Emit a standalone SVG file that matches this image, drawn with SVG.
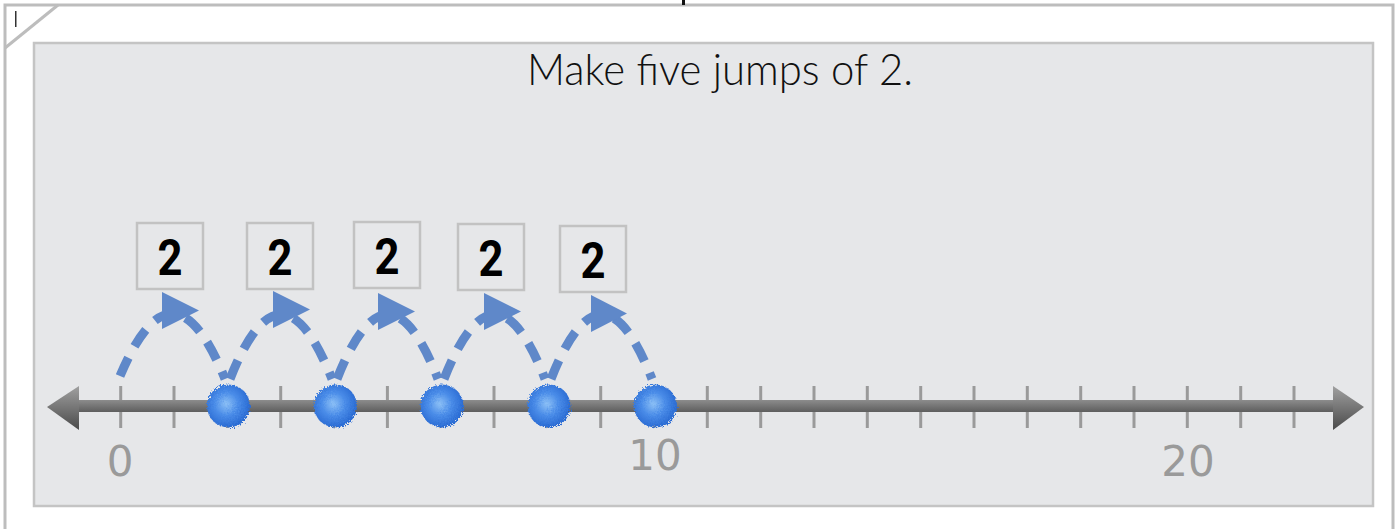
<svg xmlns="http://www.w3.org/2000/svg" width="1395" height="529" viewBox="0 0 1395 529">
<defs>
<style>
.frame{fill:#ffffff;stroke:#bdbdbd;stroke-width:3}
.panel{fill:#e6e7e9;stroke:#c4c4c4;stroke-width:2.5}
.tick{stroke:#9a9a9a;stroke-width:3}
.lbl{fill:#9a9a9a;font-family:"Century Gothic","DejaVu Sans","Noto Sans",sans-serif;font-size:42px;text-anchor:middle}
.box{fill:#e6e7e9;stroke:#c2c2c2;stroke-width:2.5}
.two{fill:#000;font-family:"Roboto","Liberation Sans",sans-serif;font-weight:bold;font-size:50px;text-anchor:middle}
.arc{fill:none;stroke:#5f88c9;stroke-width:9;stroke-dasharray:20 13}
.tri{fill:#5f88c9}
.dot{fill:url(#dotg);filter:url(#fuzz)}
</style>
<linearGradient id="lineg" x1="0" y1="0" x2="0" y2="1">
<stop offset="0" stop-color="#8c8c8c"/>
<stop offset="1" stop-color="#5e5e5e"/>
</linearGradient>
<linearGradient id="headg" x1="0" y1="0" x2="0" y2="1">
<stop offset="0" stop-color="#a0a0a0"/>
<stop offset="1" stop-color="#4a4a4a"/>
</linearGradient>
<radialGradient id="dotg" cx="0.45" cy="0.45" r="0.55">
<stop offset="0" stop-color="#8cc0f6"/>
<stop offset="0.5" stop-color="#4a8ce8"/>
<stop offset="1" stop-color="#2a6bd3"/>
</radialGradient>
<filter id="fuzz" x="-25%" y="-25%" width="150%" height="150%">
<feTurbulence type="fractalNoise" baseFrequency="0.7" numOctaves="2" result="n"/>
<feDisplacementMap in="SourceGraphic" in2="n" scale="6"/>
</filter>
</defs>

<g id="frame">
<rect class="frame" x="5" y="5" width="1388" height="540"/>
<line x1="5" y1="48" x2="58" y2="5" stroke="#bdbdbd" stroke-width="3"/>
<rect x="15" y="11" width="1.5" height="16" fill="#333"/>
<rect x="682" y="0" width="3" height="5" fill="#111"/>
</g>

<g id="panel">
<rect class="panel" x="34" y="43" width="1339" height="463"/>
<text x="720" y="85" font-family="Lato,'DejaVu Sans',sans-serif" font-weight="300" font-size="44" fill="#111" text-anchor="middle" textLength="386" lengthAdjust="spacingAndGlyphs">Make five jumps of 2.</text>
</g>

<g id="number-line">
<g id="ticks">
<line class="tick" x1="120.7" y1="386" x2="120.7" y2="428"/>
<line class="tick" x1="174" y1="386" x2="174" y2="428"/>
<line class="tick" x1="227.4" y1="386" x2="227.4" y2="428"/>
<line class="tick" x1="280.7" y1="386" x2="280.7" y2="428"/>
<line class="tick" x1="334" y1="386" x2="334" y2="428"/>
<line class="tick" x1="387.4" y1="386" x2="387.4" y2="428"/>
<line class="tick" x1="440.7" y1="386" x2="440.7" y2="428"/>
<line class="tick" x1="494" y1="386" x2="494" y2="428"/>
<line class="tick" x1="547.4" y1="386" x2="547.4" y2="428"/>
<line class="tick" x1="600.7" y1="386" x2="600.7" y2="428"/>
<line class="tick" x1="654" y1="386" x2="654" y2="428"/>
<line class="tick" x1="707.3" y1="386" x2="707.3" y2="428"/>
<line class="tick" x1="760.7" y1="386" x2="760.7" y2="428"/>
<line class="tick" x1="814" y1="386" x2="814" y2="428"/>
<line class="tick" x1="867.3" y1="386" x2="867.3" y2="428"/>
<line class="tick" x1="920.7" y1="386" x2="920.7" y2="428"/>
<line class="tick" x1="974" y1="386" x2="974" y2="428"/>
<line class="tick" x1="1027.3" y1="386" x2="1027.3" y2="428"/>
<line class="tick" x1="1080.7" y1="386" x2="1080.7" y2="428"/>
<line class="tick" x1="1134" y1="386" x2="1134" y2="428"/>
<line class="tick" x1="1187.3" y1="386" x2="1187.3" y2="428"/>
<line class="tick" x1="1240.7" y1="386" x2="1240.7" y2="428"/>
<line class="tick" x1="1294" y1="386" x2="1294" y2="428"/>
</g>
<rect x="76" y="400" width="1260" height="12" fill="url(#lineg)"/>
<polygon points="47,407 79,386 79,430" fill="url(#headg)"/>
<polygon points="1364,407 1333,386 1333,430" fill="url(#headg)"/>
<text class="lbl" x="120" y="476">0</text>
<text class="lbl" x="655" y="470">10</text>
<text class="lbl" x="1188" y="476">20</text>
</g>

<g id="connectors">
<path class="arc" d="M120,376 Q173,250 225,379"/>
<path class="arc" d="M230,379 Q281,250 332,379"/>
<path class="arc" d="M337,379 Q388,250 438,379"/>
<path class="arc" d="M444,379 Q495,250 545,379"/>
<path class="arc" d="M551,379 Q602,250 652,379"/>
<polygon class="tri" points="162,292 162,329 199,310.5"/>
<polygon class="tri" points="273,291 273,328 310,309.5"/>
<polygon class="tri" points="378,293 378,330 415,311.5"/>
<polygon class="tri" points="484,293 484,330 521,311.5"/>
<polygon class="tri" points="591,295 591,332 627,313.5"/>
</g>

<g id="dots">
<circle class="dot" cx="228.5" cy="406" r="21.5"/>
<circle class="dot" cx="335.5" cy="406" r="21.5"/>
<circle class="dot" cx="442" cy="406" r="21.5"/>
<circle class="dot" cx="549" cy="406" r="21.5"/>
<circle class="dot" cx="655.5" cy="406" r="21.5"/>
</g>

<g id="label-1"><rect class="box" x="137" y="223" width="66" height="66"/><text class="two" x="170" y="275" textLength="25" lengthAdjust="spacingAndGlyphs">2</text></g>
<g id="label-2"><rect class="box" x="247" y="223" width="66" height="66"/><text class="two" x="280" y="275" textLength="25" lengthAdjust="spacingAndGlyphs">2</text></g>
<g id="label-3"><rect class="box" x="354" y="222" width="66" height="66"/><text class="two" x="387" y="274" textLength="25" lengthAdjust="spacingAndGlyphs">2</text></g>
<g id="label-4"><rect class="box" x="458" y="224" width="66" height="66"/><text class="two" x="491" y="276" textLength="25" lengthAdjust="spacingAndGlyphs">2</text></g>
<g id="label-5"><rect class="box" x="560" y="226" width="66" height="66"/><text class="two" x="593" y="278" textLength="25" lengthAdjust="spacingAndGlyphs">2</text></g>
</svg>
